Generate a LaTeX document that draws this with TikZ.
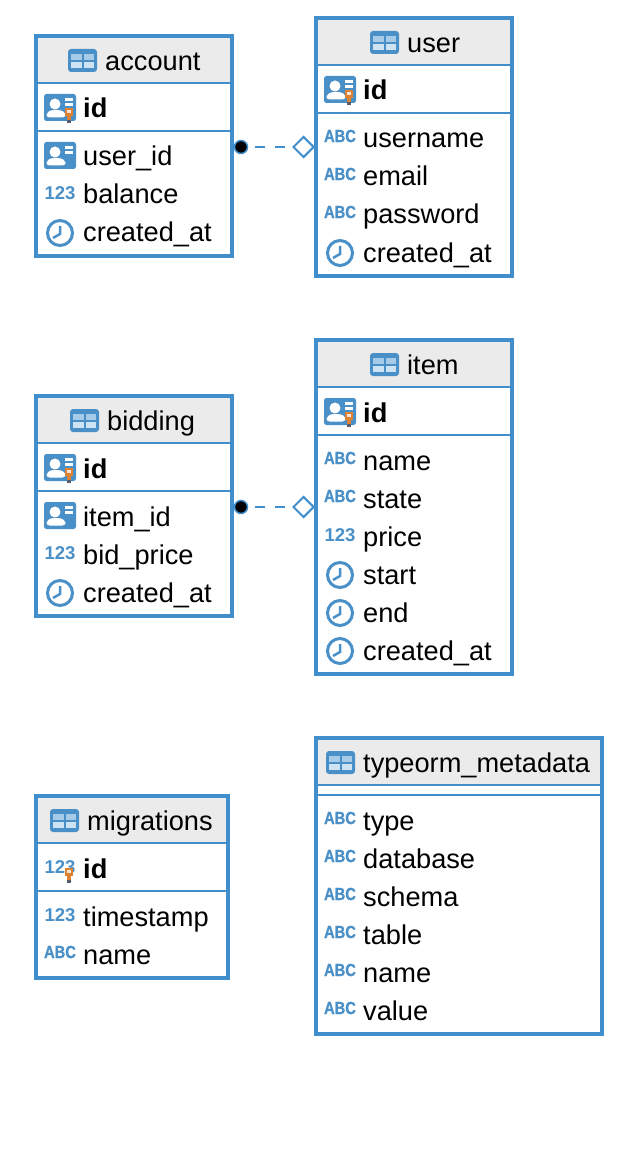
\documentclass[tikz,border=0pt]{standalone}
\usepackage{fontspec}
\usetikzlibrary{shapes.geometric}
\setmainfont{Liberation Sans}
\newfontfamily\abcfont[FakeStretch=0.84,BoldFeatures={FakeBold=0.8}]{Liberation Sans}
\definecolor{framecol}{RGB}{64,143,204}
\definecolor{iconcol}{RGB}{74,144,200}
\definecolor{iconlight}{RGB}{165,203,232}
\definecolor{iconlighter}{RGB}{205,227,243}
\definecolor{headcol}{RGB}{235,235,235}
\definecolor{keyor}{RGB}{222,130,50}
\definecolor{keygr}{RGB}{85,95,110}
\tikzset{
  tablebox/.style={draw=framecol,line width=4pt,rectangle,inner sep=0pt,fill=none},
  sepline/.style={draw=framecol,line width=2pt},
  labeltxt/.style={anchor=base west,inner sep=0pt,font=\fontsize{27.2}{27.2}\selectfont,text=black},
  keytxt/.style={labeltxt,font=\fontsize{27.2}{27.2}\selectfont\bfseries},
  numtxt/.style={anchor=center,inner sep=0pt,font=\fontsize{18.5}{18.5}\selectfont\bfseries,text=iconcol},
  abctxt/.style={anchor=center,inner sep=0pt,font=\fontsize{17.5}{17.5}\selectfont\abcfont\bfseries,text=iconcol},
  reldot/.style={circle,fill=black,draw=framecol,line width=1.5pt,minimum size=13pt,inner sep=0pt},
  reldiamond/.style={diamond,draw=framecol,line width=2pt,fill=white,minimum width=21pt,minimum height=21pt,inner sep=0pt},
  reldash/.style={draw=framecol,line width=2pt,dash pattern=on 10pt off 10pt,dash phase=13.25pt},
}
% #1 name, #2 x0, #3 y0, #4 x1, #5 y1, #6 header bottom
\newcommand\tablebody[6]{%
  \fill[headcol] (#2,#3) rectangle (#4,#6);
  \node[tablebox,minimum width={(#4-#2)*1pt},minimum height={(#5-#3)*1pt}] (#1) at ({(#2+#4)/2},{(#3+#5)/2}) {};
  \draw[sepline] (#2,#6) -- (#4,#6);
}
% #1 name, #2 icon left, #3 row y, #4 title
\newcommand\tabletitle[4]{%
  \fill[iconcol,rounded corners=3pt] (#2,#3-12) rectangle ++(29,23);
  \fill[iconlight] (#2+3,#3-7) rectangle ++(10.5,6);
  \fill[iconlight] (#2+15.5,#3-7) rectangle ++(10.5,6);
  \fill[iconlighter] (#2+3,#3+1) rectangle ++(10.5,6);
  \fill[iconlighter] (#2+15.5,#3+1) rectangle ++(10.5,6);
  \node[labeltxt] (#1) at (#2+37,#3+9.5) {#4};
}
\newcommand\personicon[2]{%
  \fill[iconcol,rounded corners=2.5pt] (#1+8,#2-15) rectangle (#1+40,#2+12);
  \fill[white] (#1+19,#2-5) circle (5.5);
  \fill[white,rounded corners=3pt] (#1+10.5,#2+8.5) -- (#1+10.5,#2+4) -- (#1+15,#2+1) -- (#1+25,#2+1) -- (#1+29.5,#2+4) -- (#1+29.5,#2+8.5) -- cycle;
  \fill[white] (#1+29,#2-11) rectangle (#1+37,#2-8);
  \fill[white] (#1+29,#2-6) rectangle (#1+37,#2-3);
}
\newcommand\keyicon[2]{%
  \fill[keyor] (#1+29,#2-1) rectangle (#1+37,#2+7);
  \fill[white!80!keyor] (#1+31,#2+1) rectangle (#1+35,#2+4);
  \fill[keyor] (#1+31,#2+7) rectangle (#1+35,#2+11);
  \fill[keygr] (#1+31,#2+11) rectangle (#1+35,#2+14);
}
\newcommand\clockicon[2]{%
  \draw[iconcol,line width=3pt] (#1+24,#2) circle (12.5);
  \draw[iconcol,line width=2.5pt] (#1+24,#2-7) -- (#1+24,#2+1) -- (#1+17,#2+5);
}
\newcommand\numicon[3]{\node[numtxt] (#1) at (#2+24,#3-2) {123};}
\newcommand\abcicon[3]{\node[abctxt] (#1) at (#2+24,#3-3) {ABC};}
\newcommand\rowtext[4]{\node[labeltxt] (#1) at (#2+47,#3+9) {#4};}
\newcommand\idtext[3]{\node[keytxt] (#1) at (#2+47,#3+9) {id};}
\begin{document}
\begin{tikzpicture}[x=1pt,y=-1pt]
\useasboundingbox (0,0) rectangle (628,1158);
\fill[white] (0,0) rectangle (628,1158);

% account
\tablebody{account}{36}{36}{232}{256}{83}
\tabletitle{accountT}{68}{61}{account}
\draw[sepline] (36,131) -- (232,131);
\personicon{36}{109}\keyicon{36}{109}\idtext{accountId}{36}{109}
\personicon{36}{157}\rowtext{accountA}{36}{157}{user\_id}
\numicon{accountBi}{36}{195}\rowtext{accountB}{36}{195}{balance}
\clockicon{36}{233}\rowtext{accountC}{36}{233}{created\_at}

% user
\tablebody{user}{316}{18}{512}{276}{65}
\tabletitle{userT}{370}{43}{user}
\draw[sepline] (316,113) -- (512,113);
\personicon{316}{91}\keyicon{316}{91}\idtext{userId}{316}{91}
\abcicon{userAi}{316}{139}\rowtext{userA}{316}{139}{username}
\abcicon{userBi}{316}{177}\rowtext{userB}{316}{177}{email}
\abcicon{userCi}{316}{215}\rowtext{userC}{316}{215}{password}
\clockicon{316}{253}\rowtext{userD}{316}{253}{created\_at}

% bidding
\tablebody{bidding}{36}{396}{232}{616}{443}
\tabletitle{biddingT}{70}{421}{bidding}
\draw[sepline] (36,491) -- (232,491);
\personicon{36}{469}\keyicon{36}{469}\idtext{biddingId}{36}{469}
\personicon{36}{517}\rowtext{biddingA}{36}{517}{item\_id}
\numicon{biddingBi}{36}{555}\rowtext{biddingB}{36}{555}{bid\_price}
\clockicon{36}{593}\rowtext{biddingC}{36}{593}{created\_at}

% item
\tablebody{item}{316}{340}{512}{674}{387}
\tabletitle{itemT}{370}{365}{item}
\draw[sepline] (316,435) -- (512,435);
\personicon{316}{413}\keyicon{316}{413}\idtext{itemId}{316}{413}
\abcicon{itemAi}{316}{461}\rowtext{itemA}{316}{461}{name}
\abcicon{itemBi}{316}{499}\rowtext{itemB}{316}{499}{state}
\numicon{itemCi}{316}{537}\rowtext{itemC}{316}{537}{price}
\clockicon{316}{575}\rowtext{itemD}{316}{575}{start}
\clockicon{316}{613}\rowtext{itemE}{316}{613}{end}
\clockicon{316}{651}\rowtext{itemF}{316}{651}{created\_at}

% migrations
\tablebody{migrations}{36}{796}{228}{978}{843}
\tabletitle{migrationsT}{50}{821}{migrations}
\draw[sepline] (36,891) -- (228,891);
\numicon{migrationsIdi}{36}{869}\keyicon{36}{869}\idtext{migrationsId}{36}{869}
\numicon{migrationsAi}{36}{917}\rowtext{migrationsA}{36}{917}{timestamp}
\abcicon{migrationsBi}{36}{955}\rowtext{migrationsB}{36}{955}{name}

% typeorm_metadata
\tablebody{typeorm}{316}{738}{602}{1034}{785}
\tabletitle{typeormT}{326}{763}{typeorm\_metadata}
\draw[sepline] (316,795) -- (602,795);
\abcicon{typeormAi}{316}{821}\rowtext{typeormA}{316}{821}{type}
\abcicon{typeormBi}{316}{859}\rowtext{typeormB}{316}{859}{database}
\abcicon{typeormCi}{316}{897}\rowtext{typeormC}{316}{897}{schema}
\abcicon{typeormDi}{316}{935}\rowtext{typeormD}{316}{935}{table}
\abcicon{typeormEi}{316}{973}\rowtext{typeormE}{316}{973}{name}
\abcicon{typeormFi}{316}{1011}\rowtext{typeormF}{316}{1011}{value}

% relations
\node[reldot] (dotA) at (241,147) {};
\node[reldiamond] (diaA) at (303.5,147) {};
\draw[reldash] (dotA) -- (diaA);
\node[reldot] (dotB) at (241,507) {};
\node[reldiamond] (diaB) at (303.5,507) {};
\draw[reldash] (dotB) -- (diaB);
\end{tikzpicture}
\end{document}
